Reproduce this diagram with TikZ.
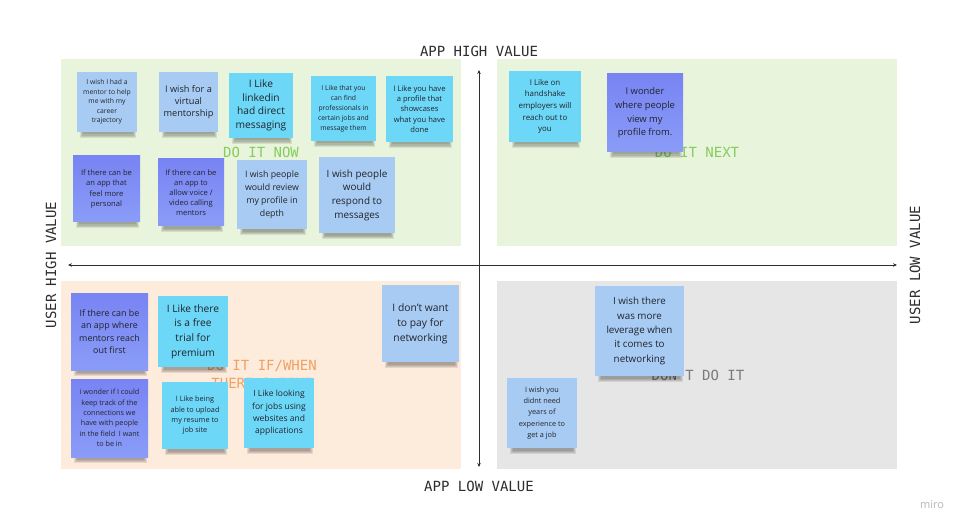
\documentclass[tikz,border=0pt]{standalone}
\usepackage{fontspec}
\setmainfont{Open Sans}
\newfontfamily\monofont{DejaVu Sans Mono}
\usetikzlibrary{arrows.meta}
\definecolor{qgreen}{HTML}{E8F5DC}
\definecolor{qorange}{HTML}{FDEBDC}
\definecolor{qgray}{HTML}{E6E6E6}
\definecolor{noteblue}{HTML}{A8CBF3}
\definecolor{notecyan}{HTML}{6DD7F8}
\definecolor{purpleA}{HTML}{7884F3}
\definecolor{purpleB}{HTML}{8A9CF7}
\definecolor{notetext}{HTML}{20242C}
\definecolor{axiscol}{HTML}{2E2E2E}
\definecolor{greenlab}{HTML}{86CC5E}
\definecolor{orangelab}{HTML}{F1A163}
\definecolor{graylab}{HTML}{7A7A7A}
\tikzset{
  note/.style={rectangle, inner sep=0pt, align=center, text=notetext},
  bluenote/.style={note, fill=noteblue},
  cyannote/.style={note, fill=notecyan},
  purplenote/.style={note, top color=purpleA, bottom color=purpleB},
  fs/.style 2 args={font=\fontsize{#1}{#2}\selectfont},
  axislabel/.style={font=\monofont\fontsize{14}{16}\selectfont, text=axiscol},
  quadlabel/.style={font=\monofont\fontsize{14}{18}\selectfont, align=center},
  axisline/.style={draw=axiscol, line width=0.8pt, {Stealth[length=4pt,width=3.5pt]}-{Stealth[length=4pt,width=3.5pt]}}
}
\newcommand\sticky[7]{%
  \foreach \s in {0,1,2,3}{%
    \fill[black,opacity=.09] ({#2-#4/2+6-\s},{#3+#5/2-2}) rectangle ({#2+#4/2-4+\s},{#3+#5/2+2.5+\s*1.3});}
  \node[#6, minimum width=#4pt, minimum height=#5pt] (#1) at (#2,#3) {#7};
}
\begin{document}
\begin{tikzpicture}[x=1pt,y=-1pt]
\useasboundingbox (0,0) rectangle (970,532);
\fill[white] (0,0) rectangle (970,532);
% quadrants
\fill[qgreen] (61,59) rectangle (461,246);
\fill[qgreen] (497,59) rectangle (897,246);
\fill[qorange] (61,281) rectangle (461,469);
\fill[qgray] (497,281) rectangle (897,469);
% axes
\coordinate (hl) at (68,265);
\coordinate (hr) at (897,265);
\coordinate (vt) at (479,70);
\coordinate (vb) at (479,467);
\draw[axisline] (hl) -- (hr);
\draw[axisline] (vt) -- (vb);
\node[axislabel] (apphigh) at (479,51) {APP HIGH VALUE};
\node[axislabel] (applow) at (479,486) {APP LOW VALUE};
\node[axislabel, rotate=90] (userhigh) at (51,265) {USER HIGH VALUE};
\node[axislabel, rotate=90] (userlow) at (915,265) {USER LOW VALUE};
% quadrant labels
\node[quadlabel, text=greenlab] (now) at (261,152) {DO IT NOW};
\node[quadlabel, text=greenlab] (next) at (697,152) {DO IT NEXT};
\node[quadlabel, text=orangelab] (ifwhen) at (262,374) {DO IT IF/WHEN\\THERE'S TIME};
\node[quadlabel, text=graylab] (dont) at (698,375) {DON'T DO IT};
% top-left notes
\sticky{n1}{107}{102}{60}{60}{bluenote,fs={6.8}{9.6}}{I wish I had a\\mentor to help\\me with my\\career\\trajectory}
\sticky{n2}{188.5}{102}{59}{60}{bluenote,fs={9.2}{12}}{I wish for a\\virtual\\mentorship}
\sticky{n3}{261}{105.5}{64}{65}{cyannote,fs={10.2}{13.6}}{I Like\\linkedin\\had direct\\messaging}
\sticky{n4}{343.5}{108.5}{65}{65}{cyannote,fs={6.8}{10}}{I Like that you\\can find\\professionals in\\certain jobs and\\message them}
\sticky{n5}{419.5}{109}{67}{66}{cyannote,fs={7.6}{10.3}}{I Like you have\\a profile that\\showcases\\what you have\\done}
\sticky{n6}{106.5}{189}{67}{66}{purplenote,fs={7.6}{10.3}}{If there can be\\an app that\\feel more\\personal}
\sticky{n7}{191}{192.5}{66}{67}{purplenote,fs={7.6}{10}}{If there can be\\an app to\\allow voice /\\video calling\\mentors}
\sticky{n8}{272}{194.5}{70}{69}{bluenote,fs={8.8}{13}}{I wish people\\would review\\my profile in\\depth}
\sticky{n9}{357}{195}{76}{76}{bluenote,fs={9.9}{13.7}}{I wish people\\would\\respond to\\messages}
% top-right notes
\sticky{m1}{545}{106.5}{72}{71}{cyannote,fs={7.9}{11.6}}{I Like on\\handshake\\employers will\\reach out to\\you}
\sticky{m2}{645}{113}{76}{78}{purplenote,fs={9.4}{13.7}}{I wonder\\where people\\view my\\profile from.}
% bottom-left notes
\sticky{b1}{109.5}{331.5}{77}{77}{purplenote,fs={8.9}{12.3}}{If there can be\\an app where\\mentors reach\\out first}
\sticky{b2}{193}{331.5}{70}{71}{cyannote,fs={10.2}{14.7}}{I Like there\\is a free\\trial for\\premium}
\sticky{b3}{420.5}{323.5}{77}{77}{bluenote,fs={10.3}{15}}{I don't want\\to pay for\\networking}
\sticky{b4}{109.5}{418}{77}{78}{purplenote,fs={7.2}{10.3}}{i wonder if I could\\keep track of the\\connections we\\have with people\\in the field~ I want\\to be in}
\sticky{b5}{195}{415.5}{66}{67}{cyannote,fs={7.3}{10.3}}{I Like being\\able to upload\\my resume to\\job site}
\sticky{b6}{279}{413}{70}{70}{cyannote,fs={8.5}{12.3}}{I Like looking\\for jobs using\\websites and\\applications}
% bottom-right notes
\sticky{r1}{639.5}{331}{89}{90}{bluenote,fs={9.8}{14.3}}{I wish there\\was more\\leverage when\\it comes to\\networking}
\sticky{r2}{542}{413}{70}{70}{bluenote,fs={7.3}{11.3}}{I wish you\\didnt need\\years of\\experience to\\get a job}
% logo
\node[font=\fontsize{11}{12}\selectfont, text=black!28] (miro) at (932,505) {miro};
\end{tikzpicture}
\end{document}
